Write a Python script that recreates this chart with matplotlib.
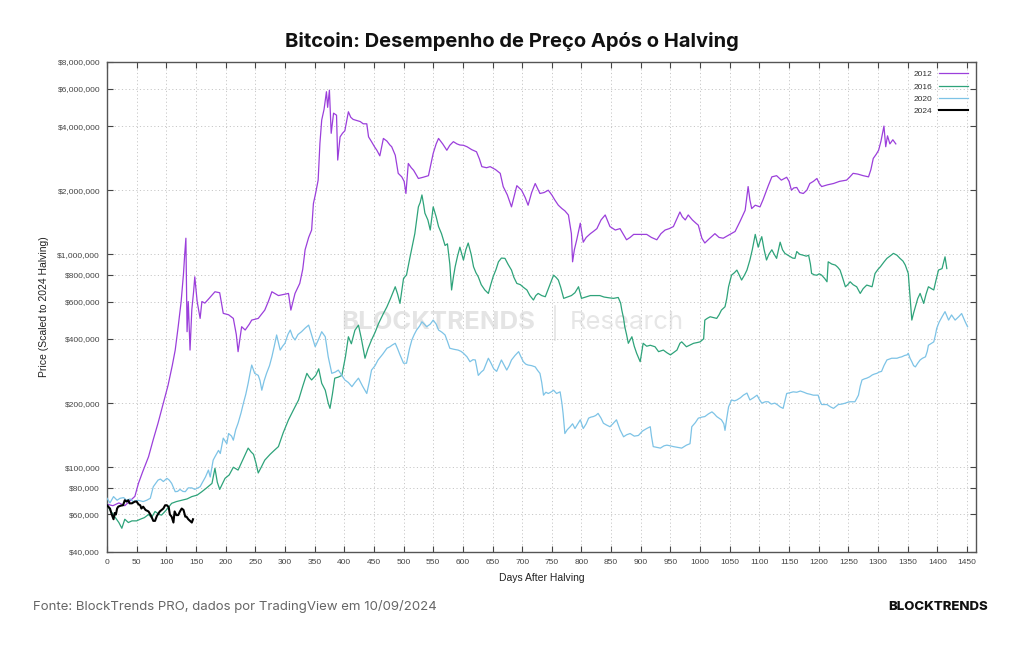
import matplotlib
matplotlib.use("Agg")
import matplotlib.pyplot as plt
from matplotlib.ticker import FixedLocator, FuncFormatter, NullLocator

# ---------------- data (values in thousands of US$) ----------------
days_2012 = [0, 10, 20, 30, 40, 47, 53, 60, 70, 78, 86, 95, 103, 110, 115, 120, 125, 129, 131, 133, 135, 137, 140, 143, 146, 148, 152, 157, 160, 165, 172, 182, 190, 196, 205, 213, 218, 221, 227, 233, 240, 244, 255, 266, 272, 278, 289, 300, 306, 310, 317, 325, 330, 334, 340, 345, 348, 352, 356, 359, 362, 366, 370, 372, 375, 378, 382, 387, 389, 393, 397, 401, 404, 407, 411, 415, 421, 427, 432, 438, 441, 446, 451, 455, 460, 466, 472, 477, 480, 486, 491, 497, 501, 504, 508, 513, 517, 525, 533, 542, 550, 555, 559, 566, 573, 578, 584, 590, 595, 601, 607, 615, 623, 628, 632, 640, 646, 655, 663, 668, 675, 682, 687, 691, 699, 705, 710, 716, 722, 730, 737, 744, 750, 755, 761, 767, 772, 778, 783, 785, 788, 792, 798, 803, 808, 815, 820, 826, 833, 840, 848, 857, 865, 870, 876, 882, 888, 899, 910, 918, 927, 934, 941, 948, 955, 960, 966, 970, 975, 980, 987, 993, 997, 1003, 1008, 1015, 1025, 1032, 1039, 1048, 1059, 1067, 1076, 1081, 1084, 1087, 1093, 1101, 1106, 1110, 1115, 1121, 1129, 1137, 1146, 1150, 1154, 1158, 1163, 1168, 1174, 1180, 1185, 1191, 1197, 1201, 1205, 1215, 1225, 1235, 1247, 1252, 1258, 1266, 1275, 1284, 1288, 1292, 1297, 1301, 1305, 1310, 1313, 1316, 1320, 1325, 1330]
price_2012 = [67, 66, 68, 66, 70, 73, 84, 95, 112, 135, 161, 200, 243, 300, 355, 457, 600, 813, 1000, 1190, 433, 600, 355, 550, 667, 784, 600, 500, 600, 590, 620, 667, 660, 528, 520, 500, 420, 349, 457, 441, 470, 491, 500, 547, 600, 667, 640, 650, 655, 547, 655, 730, 850, 1050, 1200, 1300, 1730, 1950, 2230, 3320, 4270, 4800, 5800, 4900, 5900, 3700, 4600, 4500, 2770, 3560, 3700, 3800, 4200, 4670, 4400, 4300, 4250, 4200, 4100, 4100, 3560, 3380, 3200, 3080, 2900, 3500, 3400, 3260, 3200, 2920, 2400, 2310, 2200, 1930, 2670, 2550, 2480, 2270, 2300, 2340, 2980, 3300, 3500, 3300, 3080, 3250, 3380, 3300, 3260, 3250, 3200, 3100, 3030, 2800, 2580, 2550, 2580, 2500, 2400, 2080, 1900, 1670, 1900, 2100, 2000, 1850, 1700, 1950, 2150, 1930, 1950, 2000, 1900, 1800, 1700, 1640, 1600, 1530, 1250, 922, 1050, 1170, 1400, 1140, 1200, 1250, 1280, 1320, 1450, 1530, 1350, 1300, 1320, 1250, 1170, 1200, 1240, 1240, 1240, 1200, 1170, 1250, 1300, 1320, 1350, 1450, 1580, 1500, 1450, 1530, 1450, 1400, 1370, 1190, 1130, 1180, 1250, 1200, 1190, 1230, 1280, 1420, 1610, 2080, 1800, 1640, 1700, 1670, 1800, 1930, 2100, 2310, 2340, 2230, 2300, 2200, 2000, 2050, 2060, 1950, 1930, 2000, 2150, 2200, 2270, 2150, 2080, 2120, 2150, 2200, 2230, 2300, 2400, 2380, 2340, 2310, 2500, 2820, 2950, 3080, 3400, 4000, 3200, 3600, 3300, 3450, 3300]

days_2016 = [0, 5, 13, 20, 25, 30, 36, 42, 50, 56, 63, 70, 75, 81, 88, 92, 100, 109, 117, 126, 135, 143, 152, 160, 168, 177, 182, 186, 190, 195, 199, 206, 213, 221, 230, 238, 243, 247, 251, 255, 260, 266, 275, 282, 289, 297, 306, 314, 323, 330, 337, 341, 345, 352, 357, 362, 368, 373, 376, 380, 384, 390, 396, 402, 407, 412, 418, 424, 429, 435, 440, 446, 452, 458, 465, 472, 478, 486, 490, 494, 500, 505, 511, 515, 519, 522, 525, 528, 531, 534, 536, 541, 545, 550, 555, 559, 564, 570, 574, 578, 581, 584, 587, 591, 595, 601, 605, 609, 614, 618, 622, 626, 631, 637, 643, 647, 651, 656, 660, 665, 671, 676, 682, 686, 691, 697, 702, 708, 713, 719, 723, 727, 733, 739, 745, 750, 753, 757, 761, 765, 770, 776, 783, 789, 795, 800, 807, 815, 823, 831, 838, 846, 854, 862, 866, 868, 871, 873, 876, 879, 885, 889, 893, 899, 904, 910, 916, 924, 930, 938, 944, 950, 955, 961, 966, 969, 977, 983, 989, 995, 1000, 1006, 1008, 1012, 1017, 1022, 1028, 1032, 1036, 1042, 1045, 1048, 1053, 1058, 1062, 1066, 1070, 1075, 1079, 1084, 1088, 1093, 1098, 1101, 1104, 1108, 1112, 1116, 1121, 1125, 1129, 1135, 1139, 1143, 1148, 1152, 1156, 1160, 1163, 1168, 1174, 1179, 1183, 1186, 1188, 1193, 1197, 1201, 1205, 1210, 1214, 1216, 1222, 1228, 1232, 1236, 1240, 1245, 1249, 1253, 1258, 1264, 1270, 1275, 1281, 1286, 1290, 1295, 1300, 1304, 1310, 1315, 1320, 1326, 1332, 1337, 1342, 1346, 1351, 1354, 1357, 1360, 1363, 1367, 1371, 1377, 1381, 1385, 1390, 1394, 1398, 1402, 1408, 1413, 1416]
price_2016 = [67, 63, 58.6, 55, 51.7, 57, 55, 56, 56, 57, 58, 60, 58, 62, 60, 59.6, 63, 67.7, 69, 70, 71, 72.8, 74, 76.8, 80, 84, 98.9, 85, 78.7, 84, 88.7, 92, 100, 97, 110, 123, 118, 115, 105, 94, 100, 108, 115, 120, 125, 145, 167, 185, 207, 240, 276, 265, 257, 270, 290, 248, 230, 200, 189, 220, 262, 265, 270, 330, 410, 380, 440, 465, 400, 325, 360, 396, 430, 474, 520, 567, 620, 704, 650, 588, 771, 800, 973, 1100, 1250, 1450, 1670, 1750, 1900, 1700, 1560, 1450, 1300, 1670, 1500, 1350, 1250, 1100, 1120, 900, 680, 780, 874, 980, 1080, 940, 1050, 1130, 1000, 874, 820, 784, 720, 680, 655, 720, 784, 850, 922, 960, 957, 900, 843, 780, 730, 720, 700, 680, 640, 610, 640, 655, 640, 632, 700, 760, 798, 780, 757, 700, 621, 630, 640, 660, 704, 621, 630, 640, 640, 640, 630, 625, 621, 627, 590, 547, 500, 457, 420, 382, 410, 370, 343, 313, 382, 370, 374, 368, 349, 355, 345, 337, 345, 355, 382, 388, 368, 375, 382, 385, 388, 401, 491, 500, 509, 505, 500, 520, 547, 567, 620, 704, 798, 820, 843, 800, 757, 800, 843, 940, 1050, 1240, 1080, 1150, 1210, 1050, 940, 1000, 1050, 1000, 957, 1140, 1050, 1010, 990, 973, 960, 957, 1030, 1000, 990, 980, 990, 900, 813, 800, 798, 810, 798, 770, 743, 922, 900, 890, 870, 843, 780, 704, 720, 743, 720, 704, 655, 690, 717, 710, 704, 813, 850, 874, 920, 957, 980, 1010, 990, 957, 930, 890, 813, 632, 491, 530, 567, 620, 655, 588, 650, 704, 690, 680, 760, 843, 857, 973, 857]

days_2020 = [0, 5, 11, 17, 22, 28, 33, 39, 44, 52, 61, 67, 73, 78, 82, 86, 90, 95, 101, 105, 109, 115, 119, 123, 128, 132, 137, 143, 148, 153, 157, 160, 166, 171, 174, 179, 182, 188, 191, 196, 202, 205, 210, 213, 217, 221, 226, 230, 234, 238, 241, 244, 249, 255, 258, 261, 265, 269, 274, 278, 282, 286, 292, 296, 300, 305, 309, 313, 317, 322, 328, 334, 340, 346, 351, 357, 362, 368, 373, 379, 385, 390, 396, 401, 407, 413, 418, 424, 431, 438, 442, 446, 452, 457, 465, 472, 477, 481, 486, 490, 494, 500, 505, 510, 514, 518, 522, 527, 531, 535, 539, 545, 550, 555, 559, 565, 570, 574, 578, 585, 592, 597, 601, 607, 612, 617, 621, 626, 631, 635, 640, 643, 647, 652, 657, 661, 665, 670, 674, 678, 682, 688, 694, 698, 702, 706, 710, 716, 722, 726, 730, 733, 736, 740, 744, 748, 753, 758, 764, 767, 769, 772, 776, 781, 785, 789, 794, 798, 803, 808, 812, 816, 820, 824, 828, 833, 837, 842, 848, 853, 859, 865, 871, 876, 882, 889, 896, 903, 910, 916, 918, 921, 927, 933, 939, 944, 950, 955, 962, 969, 977, 983, 986, 992, 997, 1003, 1008, 1014, 1020, 1024, 1028, 1032, 1036, 1040, 1042, 1045, 1048, 1053, 1058, 1062, 1068, 1073, 1079, 1084, 1090, 1096, 1100, 1104, 1110, 1115, 1120, 1126, 1131, 1135, 1140, 1143, 1146, 1152, 1157, 1163, 1169, 1175, 1180, 1186, 1191, 1199, 1202, 1205, 1210, 1214, 1220, 1225, 1229, 1233, 1239, 1245, 1249, 1253, 1257, 1261, 1264, 1267, 1270, 1273, 1277, 1281, 1286, 1290, 1294, 1298, 1302, 1306, 1310, 1315, 1319, 1323, 1328, 1332, 1336, 1340, 1345, 1349, 1351, 1354, 1357, 1360, 1363, 1367, 1371, 1375, 1380, 1383, 1385, 1390, 1394, 1397, 1399, 1403, 1408, 1413, 1419, 1424, 1430, 1436, 1441, 1447, 1451]
price_2020 = [71.5, 68, 72.8, 70, 71.5, 72, 70, 71, 69, 70, 69, 70, 71.5, 81, 84, 87, 88, 85.7, 88.7, 87, 84, 76.8, 77, 78.7, 77, 76.8, 80, 80, 78.7, 80, 81, 84, 90, 97, 90, 108, 112, 120, 116, 137, 129, 144, 140, 134, 150, 161, 180, 200, 220, 248, 275, 302, 276, 270, 255, 230, 255, 276, 300, 330, 370, 418, 355, 370, 382, 420, 441, 410, 396, 420, 433, 450, 465, 410, 368, 400, 433, 410, 330, 276, 280, 286, 270, 257, 250, 239, 250, 262, 240, 222, 250, 286, 300, 319, 340, 362, 368, 375, 382, 360, 337, 308, 308, 360, 396, 420, 441, 460, 482, 470, 457, 470, 491, 470, 441, 430, 418, 390, 362, 358, 355, 350, 343, 330, 313, 320, 319, 270, 280, 286, 310, 325, 310, 290, 282, 300, 319, 300, 286, 300, 319, 335, 349, 330, 313, 305, 302, 300, 296, 285, 276, 250, 218, 225, 222, 225, 230, 222, 226, 200, 179, 144, 150, 155, 160, 152, 160, 167, 152, 160, 170, 172, 173, 175, 179, 170, 161, 158, 155, 160, 167, 150, 139, 142, 144, 140, 141, 148, 152, 155, 140, 125, 124, 123, 126, 127, 126, 125, 124, 123, 127, 129, 155, 162, 170, 172, 173, 178, 182, 178, 173, 170, 167, 160, 149, 170, 192, 207, 205, 207, 212, 218, 223, 207, 212, 218, 208, 200, 203, 203, 198, 200, 196, 192, 189, 205, 222, 224, 226, 225, 228, 225, 222, 220, 218, 218, 205, 197, 197, 197, 192, 189, 193, 197, 198, 200, 202, 203, 203, 203, 210, 218, 240, 257, 260, 262, 266, 271, 274, 276, 280, 282, 300, 319, 322, 325, 325, 325, 328, 330, 335, 337, 343, 325, 313, 300, 296, 308, 319, 325, 330, 350, 374, 382, 388, 420, 449, 480, 509, 538, 491, 519, 491, 509, 527, 482, 457]

days_2024 = [0, 2, 5, 8, 11, 13, 15, 17, 19, 23, 27, 30, 33, 36, 38, 42, 47, 50, 53, 56, 58, 61, 65, 70, 73, 75, 78, 81, 84, 89, 92, 95, 98, 101, 104, 106, 109, 112, 114, 117, 120, 123, 126, 129, 132, 134, 137, 140, 143, 145]
price_2024 = [66.3, 65.3, 64, 60, 57, 61, 60, 64, 65.3, 66, 66.3, 70, 69, 70, 67.7, 67.7, 69, 69, 67, 66.3, 64, 65.3, 63, 62, 60, 58.6, 56, 56, 59, 62, 63, 64, 66.3, 66.3, 65, 60, 58.6, 55, 62, 59.6, 59.6, 62, 64, 63, 58.6, 58.6, 57, 56, 55, 57]

series_labels = ["2012", "2016", "2020", "2024"]
y_ticks = [40e3, 60e3, 80e3, 100e3, 200e3, 400e3, 600e3, 800e3, 1e6, 2e6, 4e6, 6e6, 8e6]
x_ticks = list(range(0, 1451, 50))

title_text = "Bitcoin: Desempenho de Preço Após o Halving"
source_text = "Fonte: BlockTrends PRO, dados por TradingView em 10/09/2024"

# ---------------- figure ----------------
fig = plt.figure(figsize=(10.24, 6.45), dpi=100)
fig.patch.set_facecolor("white")
ax = fig.add_axes([0.1045, 0.1442, 0.8485, 0.7597])

colors = ["#9b3fdb", "#2ea37a", "#7dc3e6", "#000000"]
widths = [0.9, 0.9, 0.9, 1.5]
all_days = [days_2012, days_2016, days_2020, days_2024]
all_prices = [price_2012, price_2016, price_2020, price_2024]
for d, p, c, w, lab in zip(all_days, all_prices, colors, widths, series_labels):
    ax.plot(d, [v * 1000 for v in p], color=c, lw=w, label=lab, zorder=3)

ax.set_yscale("log")
ax.set_ylim(40e3, 8e6)
ax.set_xlim(0, 1465)
ax.yaxis.set_major_locator(FixedLocator(y_ticks))
ax.yaxis.set_minor_locator(NullLocator())
ax.yaxis.set_major_formatter(FuncFormatter(lambda v, p: "${:,.0f}".format(v)))
ax.xaxis.set_major_locator(FixedLocator(x_ticks))

axfont = "Liberation Sans"
ax.tick_params(axis="both", which="major", direction="in", length=4, width=0.8,
               top=True, right=True, labelsize=6, colors="#444444", pad=5)
for lab in ax.get_xticklabels() + ax.get_yticklabels():
    lab.set_fontfamily(axfont)
ax.grid(True, which="major", color="#c8c8c8", linestyle=(0, (1.2, 2.5)), linewidth=0.7)
for s in ax.spines.values():
    s.set_color("#555555")
    s.set_linewidth(1.0)

ax.set_xlabel("Days After Halving", fontsize=7.5, family=axfont, color="#222222", labelpad=5)
ax.set_ylabel("Price (Scaled to 2024 Halving)", fontsize=7.5, family=axfont, color="#222222", labelpad=6)

leg = ax.legend(loc="upper right", frameon=False, markerfirst=False,
                prop={"family": axfont, "size": 6}, handlelength=3.4, labelspacing=0.55,
                borderaxespad=0.6)
for t in leg.get_texts():
    t.set_color("#333333")

# watermark
wm_y = 0.468
ax.text(0.4925, wm_y, "BLOCKTRENDS", transform=ax.transAxes, ha="right", va="center",
        fontsize=18.5, fontweight="bold", color="#e4e4e4", family="Inter", zorder=1)
ax.plot([0.5155, 0.5155], [wm_y - 0.035, wm_y + 0.035], transform=ax.transAxes,
        color="#e4e4e4", lw=1.2, zorder=1)
ax.text(0.533, wm_y, "Research", transform=ax.transAxes, ha="left", va="center",
        fontsize=18.5, color="#e6e6e6", family="Inter", zorder=1)

fig.text(0.5, 0.935, title_text, ha="center", va="center", fontsize=14.5,
         fontweight="bold", family="Inter", color="#111111")
fig.text(0.032, 0.059, source_text, ha="left", va="center", fontsize=9.5,
         family="Inter", color="#666666")
fig.text(0.965, 0.059, "BLOCKTRENDS", ha="right", va="center", fontsize=9.5,
         fontweight="heavy", family="Inter", color="#111111")

fig.savefig("out.png", dpi=100, facecolor="white")
